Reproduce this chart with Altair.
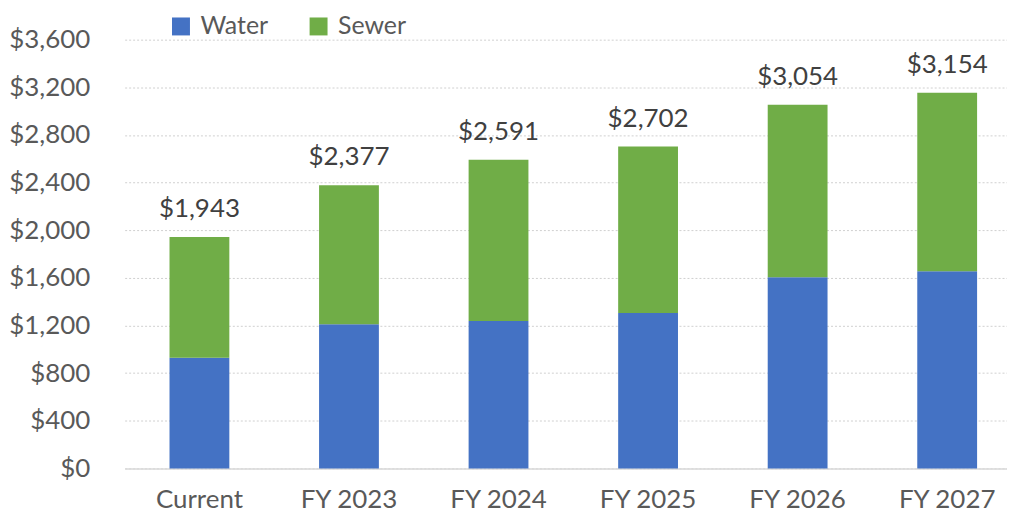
import altair as alt
import pandas as pd

categories = ["Current", "FY 2023", "FY 2024", "FY 2025", "FY 2026", "FY 2027"]
series = ["Water", "Sewer"]
water = [929, 1211, 1238, 1305, 1606, 1656]
sewer = [1014, 1166, 1353, 1397, 1448, 1498]
totals = [1943, 2377, 2591, 2702, 3054, 3154]
y_ticks = [0, 400, 800, 1200, 1600, 2000, 2400, 2800, 3200, 3600]
colors = ["#4472C4", "#70AD47"]

rows = []
for c, w, s in zip(categories, water, sewer):
    rows.append({"cat": c, "series": "Water", "value": w, "ord": 0})
    rows.append({"cat": c, "series": "Sewer", "value": s, "ord": 1})
df = pd.DataFrame(rows)
tot = pd.DataFrame({"cat": categories, "total": totals})

FONT = "Lato"
TXT = "#595959"

xenc = alt.X(
    "cat:N", sort=categories, title=None,
    scale=alt.Scale(paddingInner=0.6, paddingOuter=0.25, align=0.6),
    axis=alt.Axis(labelAngle=0, labelFont=FONT, labelFontSize=26, labelColor=TXT,
                  labelBaseline="alphabetic", labelPadding=39, ticks=False,
                  domainColor="#D9D9D9", domainWidth=1.5, grid=False),
)
yscale = alt.Scale(domain=[0, 3600], nice=False)
yaxis = alt.Axis(values=y_ticks, format="$,.0f", labelFont=FONT, labelFontSize=26,
                 labelColor=TXT, labelPadding=35, ticks=False, domain=False,
                 gridColor="#D0D0D0", gridDash=[2, 2], gridWidth=1, title=None)

bars = alt.Chart(df).mark_bar().encode(
    x=xenc,
    y=alt.Y("value:Q", stack="zero", scale=yscale, axis=yaxis),
    color=alt.Color("series:N", scale=alt.Scale(domain=series, range=colors),
                    legend=alt.Legend(orient="none", legendX=44, legendY=-26,
                                      direction="horizontal", title=None,
                                      symbolType="square", symbolSize=324,
                                      symbolStrokeWidth=0, labelFont=FONT,
                                      labelFontSize=25, labelColor=TXT,
                                      labelOffset=7, columnPadding=38, padding=0)),
    order=alt.Order("ord:Q"),
)

text = alt.Chart(tot).mark_text(font=FONT, fontSize=26, color="#404040",
                                baseline="alphabetic", dy=-20).encode(
    x=xenc,
    y=alt.Y("total:Q", scale=yscale, axis=yaxis),
    text=alt.Text("total:Q", format="$,.0f"),
)

chart = alt.layer(bars, text).properties(
    width=885, height=430,
    padding={"left": 117, "top": 31, "right": 0, "bottom": 46},
    autosize=alt.AutoSizeParams(type="none"),
).configure_view(stroke=None)

chart.save("out.html", embed_options={"renderer": "svg", "actions": False})
